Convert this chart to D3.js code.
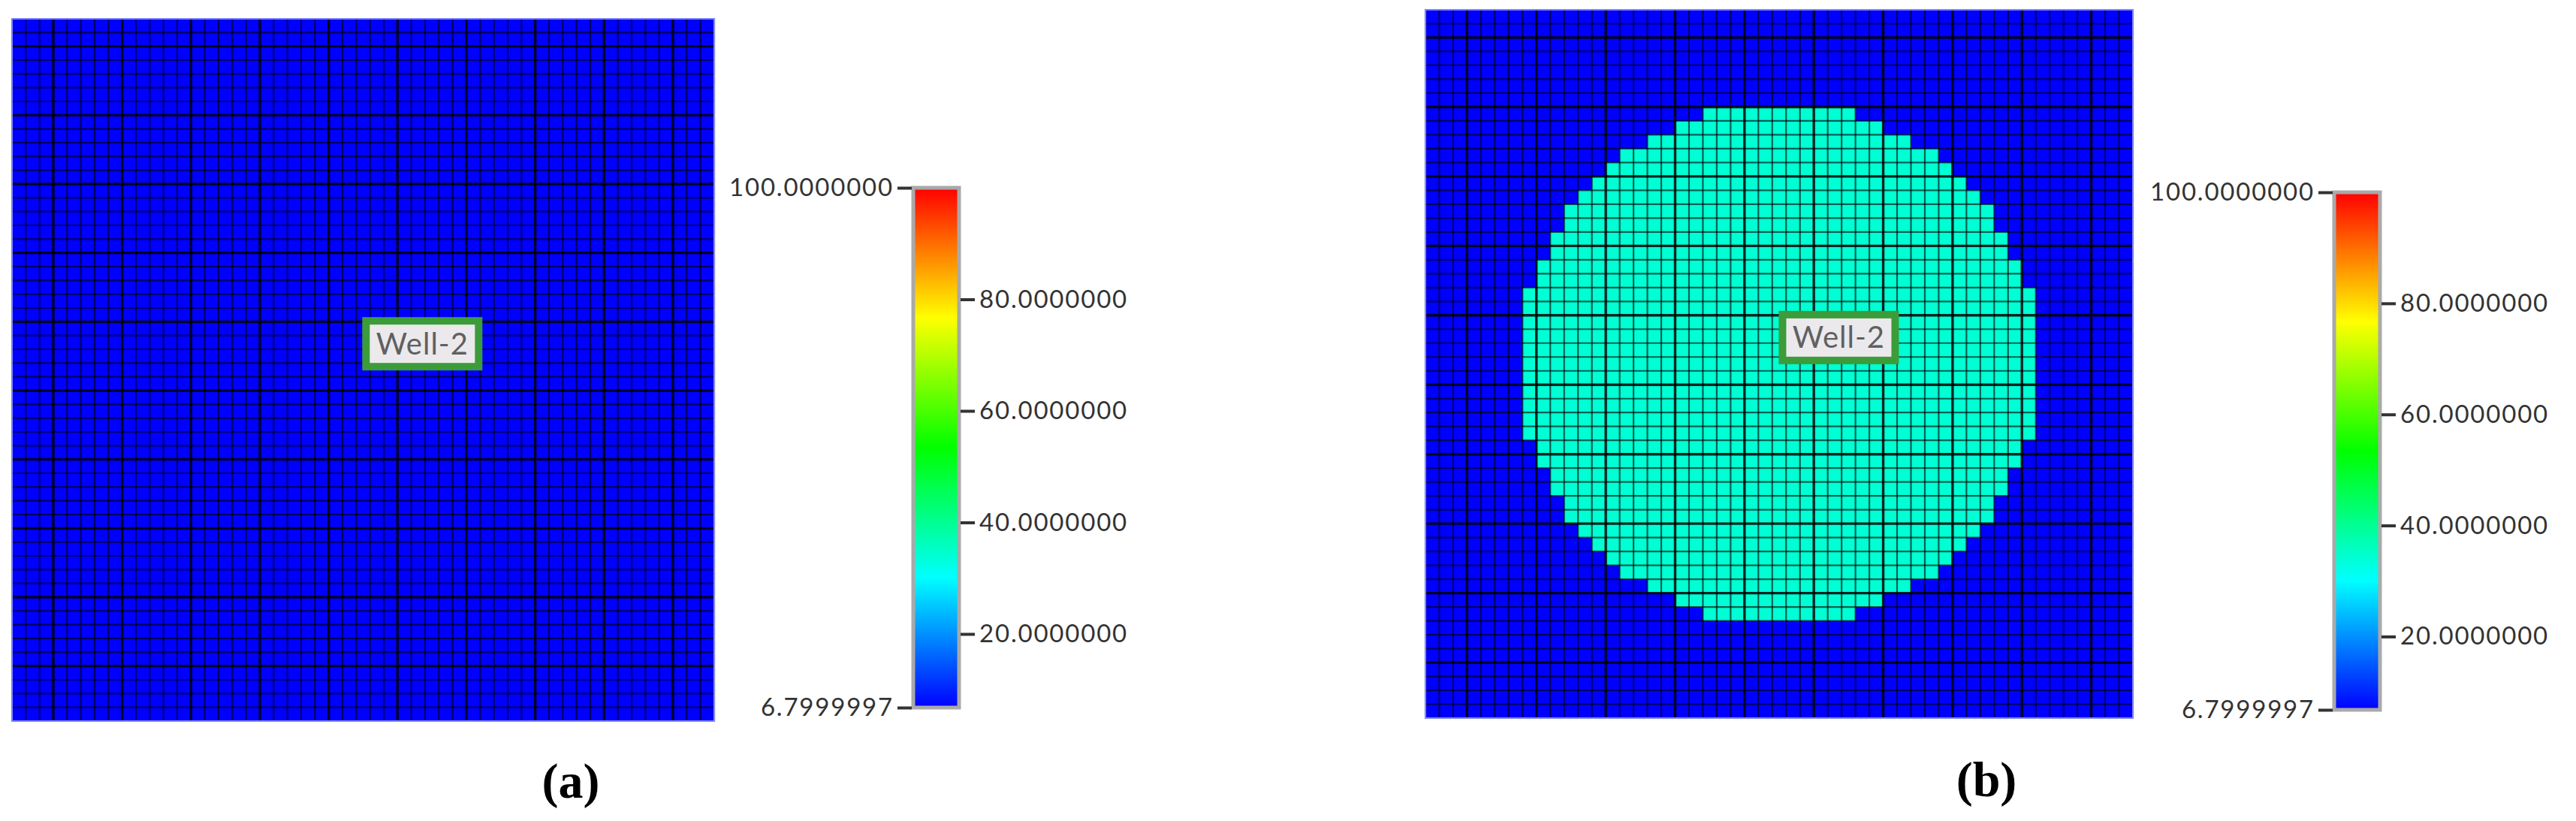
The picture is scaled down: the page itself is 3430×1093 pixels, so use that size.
<!DOCTYPE html>
<html><head><meta charset="utf-8">
<script src="https://cdn.jsdelivr.net/npm/d3@7"></script>
<style>body{margin:0;background:#fff}</style>
</head><body><svg id="chart" width="3430" height="1093"></svg>
<script>
// ---------------- DATA ----------------
const gridCount = 51;                       // cells per side of the simulation grid
const panelLabels = ["(a)", "(b)"];
const wellLabels = ["Well-2", "Well-2"];
const wellCell = [29.8, 23.6];             // label anchor in grid units (col, row)
const backgroundValue = 6.7999997;
const plumeValue = 34;                      // value of the injected region in panel (b)
const plumeRows =     [7,8,9,10,11,12,13,14,15,16,17,18,19,20,21,22,23,24,25,26,27,28,29,30,31,32,33,34,35,36,37,38,39,40,41,42,43];
const plumeStartCol = [20,18,16,14,13,12,11,10,10,9,9,8,8,7,7,7,7,7,7,7,7,7,7,7,8,8,9,9,10,10,11,12,13,14,16,18,20];
const plumeEndCol =   [30,32,34,36,37,38,39,40,40,41,41,42,42,43,43,43,43,43,43,43,43,43,43,43,42,42,41,41,40,40,39,38,37,36,34,32,30];
const colorbarDomain = [6.7999997, 100];
const leftTicks = [6.7999997, 100];
const rightTicks = [20, 40, 60, 80];

// ---------------- LAYOUT ----------------
const layout = [
  {gx0:16, gy0:25, gx1:951, gy1:960, cbx:1216, cby0:250, cby1:942, lx:760, ly:1062, plume:false},
  {gx0:1898, gy0:13, gx1:2840, gy1:956, cbx:3108, cby0:256, cby1:945, lx:2645, ly:1060, plume:true}
];
const cbWidth = 61;

const svg = d3.select("#chart");
svg.append("rect").attr("width",3430).attr("height",1093).attr("fill","#fff");

const hue = d3.scaleLinear().domain(colorbarDomain).range([240, 0]).clamp(true);
const color = v => d3.hsl(hue(v), 1, 0.5).formatHex();

const plumeMap = new Map();
plumeRows.forEach((r,i)=>plumeMap.set(r,[plumeStartCol[i], plumeEndCol[i]]));

const defs = svg.append("defs");
const grad = defs.append("linearGradient").attr("id","cbgrad")
  .attr("x1",0).attr("y1",1).attr("x2",0).attr("y2",0);
d3.range(0,1.0001,0.05).forEach(t=>{
  const v = colorbarDomain[0] + t*(colorbarDomain[1]-colorbarDomain[0]);
  grad.append("stop").attr("offset", t).attr("stop-color", color(v));
});

layout.forEach((L, pi) => {
  const g = svg.append("g");
  const x = d3.scaleLinear().domain([0, gridCount]).range([L.gx0, L.gx1]);
  const y = d3.scaleLinear().domain([0, gridCount]).range([L.gy0, L.gy1]);

  const cells = [];
  for (let r = 0; r < gridCount; r++) for (let c = 0; c < gridCount; c++) {
    let v = backgroundValue;
    if (L.plume && plumeMap.has(r)) {
      const [s,e] = plumeMap.get(r);
      if (c >= s && c <= e) v = plumeValue;
    }
    cells.push({r,c,v});
  }
  g.append("g").selectAll("rect").data(cells).join("rect")
    .attr("x", d=>x(d.c)).attr("y", d=>y(d.r))
    .attr("width", x(1)-x(0)+0.5).attr("height", y(1)-y(0)+0.5)
    .attr("fill", d=>color(d.v));

  const lines = g.append("g").attr("stroke","#000");
  d3.range(0, gridCount+1).forEach(i=>{
    lines.append("line").attr("x1",x(i)).attr("x2",x(i)).attr("y1",y(0)).attr("y2",y(gridCount))
      .attr("stroke-width", i%5===3 ? 3.4 : 2.2).attr("stroke-opacity", i%5===3 ? 0.85 : 0.62);
    lines.append("line").attr("y1",y(i)).attr("y2",y(i)).attr("x1",x(0)).attr("x2",x(gridCount))
      .attr("stroke-width", i%5===2 ? 3.4 : 2.2).attr("stroke-opacity", i%5===2 ? 0.85 : 0.62);
  });
  g.append("rect").attr("x",x(0)).attr("y",y(0)).attr("width",x(gridCount)-x(0)).attr("height",y(gridCount)-y(0))
    .attr("fill","none").attr("stroke","#7f86ff").attr("stroke-width",2);

  // well label
  const wx = x(wellCell[0]), wy = y(wellCell[1]);
  const bw = 160, bh = 71;
  g.append("rect").attr("x", wx-bw/2+5).attr("y", wy-bh/2+5).attr("width", bw-10).attr("height", bh-10)
    .attr("fill","#ebe9ec").attr("stroke","#3c9c3a").attr("stroke-width",10);
  g.append("text").attr("x", wx).attr("y", wy+14).attr("text-anchor","middle")
    .attr("font-family","Lato, 'Open Sans', sans-serif").attr("font-size",40).attr("fill","#606060")
    .attr("letter-spacing",1).text(wellLabels[pi]);

  // colorbar
  const cy = d3.scaleLinear().domain(colorbarDomain).range([L.cby1, L.cby0]);
  g.append("rect").attr("x", L.cbx).attr("y", L.cby0).attr("width", cbWidth).attr("height", L.cby1-L.cby0)
    .attr("fill","url(#cbgrad)").attr("stroke","#a9a9a9").attr("stroke-width",5);

  const fmt = d3.format(".7f");
  const axL = g.append("g").attr("transform", `translate(${L.cbx-2},0)`)
    .call(d3.axisLeft(cy).tickValues(leftTicks).tickFormat(fmt).tickSize(19).tickPadding(5));
  const axR = g.append("g").attr("transform", `translate(${L.cbx+cbWidth+2},0)`)
    .call(d3.axisRight(cy).tickValues(rightTicks).tickFormat(fmt).tickSize(19).tickPadding(6));
  [axL, axR].forEach(ax=>{
    ax.select(".domain").remove();
    ax.selectAll(".tick line").attr("stroke","#333").attr("stroke-width",4);
    ax.selectAll(".tick text").attr("font-family","Lato, 'Open Sans', sans-serif")
      .attr("font-size",33).attr("fill","#333").attr("letter-spacing",1.8);
  });

  // panel label
  g.append("text").attr("x", L.lx).attr("y", L.ly).attr("text-anchor","middle")
    .attr("font-family","'Liberation Serif', 'Times New Roman', serif").attr("font-size",66)
    .attr("font-weight","bold").attr("fill","#000").text(panelLabels[pi]);
});
</script></body></html>
